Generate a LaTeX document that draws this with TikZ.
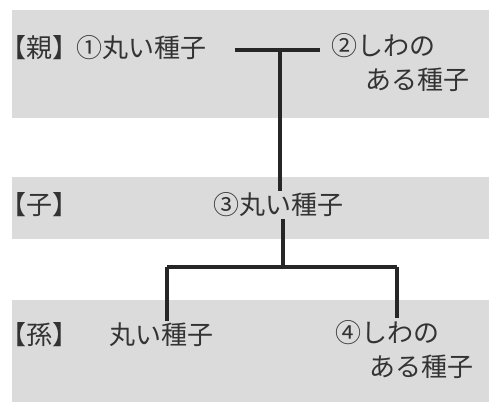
\documentclass[tikz,border=0pt]{standalone}
\usepackage{fontspec}
\setmainfont{Noto Sans CJK JP}
\usetikzlibrary{positioning}
\definecolor{bandgray}{gray}{0.86}
\definecolor{inkgray}{gray}{0.2}
\tikzset{
	x=1pt, y=-1pt, % pixel-like units, y runs downward
	band/.style={fill=bandgray, draw=none}, % the gray strips behind each generation
	gen/.style={text=inkgray, font=\fontsize{26}{34}\selectfont, inner sep=2pt, align=left}, % every text
	tie/.style={line width=3.4pt, draw=black!85}, % the connecting lines
}
\begin{document}
\begin{tikzpicture}
	\useasboundingbox (0,0) rectangle (491,409);
	% background strips
	\fill[band] (12,10) rectangle (489,118);
	\fill[band] (12,177) rectangle (489,239);
	\fill[band] (12,300) rectangle (489,402);
	% row labels
	\node[gen] (oya) at (40,48) {【親】};
	\node[gen] (ko) at (40,205) {【子】};
	\node[gen] (mago) at (40,335) {【孫】};
	% parents
	\node[gen] (p1) at (142,48) {①丸い種子};
	\node[gen, anchor=north west] (p2) at (329,31) {②しわの\\\hspace*{1.3em}ある種子};
	% child
	\node[gen] (c3) at (278,205) {③丸い種子};
	% grandchildren
	\node[gen] (g1) at (162,335) {丸い種子};
	\node[gen, anchor=north west] (g4) at (333,318) {④しわの\\\hspace*{1.3em}ある種子};
	% junctions
	\coordinate (jp) at (280,50);
	\coordinate (jc) at (283,267);
	\coordinate (jl) at (167,267);
	\coordinate (jr) at (397,267);
	\draw[tie] ([xshift=26pt]jp -| p1.east) -- ([xshift=-9pt]jp -| p2.west);
	\draw[tie] (jp) -- (jp |- c3.north);
	\draw[tie] (jc |- c3.south) -- (jc);
	\draw[tie] (jl) -- (jr);
	\draw[tie] (jl) -- (jl |- g1.north);
	\draw[tie] (jr) -- (jr |- g4.north);
\end{tikzpicture}
\end{document}
